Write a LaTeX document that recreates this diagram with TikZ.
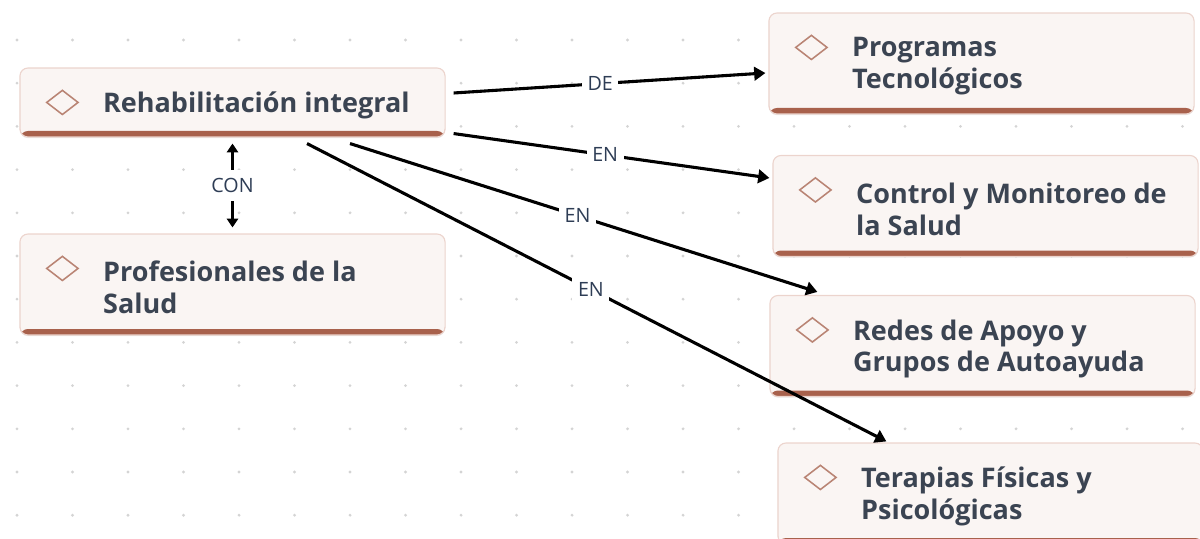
\documentclass[tikz,border=0pt]{standalone}
\usepackage{fontspec}
\setmainfont{Open Sans}
\usetikzlibrary{calc,positioning,arrows.meta,shapes.geometric,shadows}
\definecolor{cardbg}{RGB}{250,245,243}
\definecolor{carde}{RGB}{236,212,205}
\definecolor{bandc}{RGB}{168,97,76}
\definecolor{iconc}{RGB}{185,132,116}
\definecolor{txtc}{RGB}{59,68,82}
\definecolor{labc}{RGB}{46,61,85}
\definecolor{dotc}{RGB}{212,212,212}
\tikzset{
  card/.style={rectangle,rounded corners=0.2cm,draw=carde,line width=0.8pt,fill=cardbg,
    minimum width=10.625cm,inner sep=0pt,
    drop shadow={shadow xshift=0pt,shadow yshift=-0.8pt,opacity=0.18},
    path picture={\fill[bandc] (path picture bounding box.south west) rectangle ($(path picture bounding box.south east)+(0,-6)$);}},
  icon/.style={diamond,draw=iconc,line width=1.1pt,minimum width=0.8cm,minimum height=0.62cm,inner sep=0pt},
  ttxt/.style={font=\bfseries\fontsize{19.2}{22.7}\selectfont,text=txtc,align=left,inner sep=0pt},
  link/.style={-{Triangle[length=2.8mm,width=3.4mm]},line width=2.2pt,black},
  elab/.style={fill=white,font=\fontsize{14}{16}\selectfont,text=labc,inner sep=4pt},
}
\begin{document}
\begin{tikzpicture}[x=0.025cm,y=-0.025cm]
  \useasboundingbox (0,0) rectangle (1200,538);
  % dotted grid
  \foreach \i in {0,...,21}{
    \foreach \j in {0,...,11}{
      \fill[dotc] (17+55.5*\i,40+43.2*\j) circle (1.1pt);}}
  % cards
  \foreach \n/\x/\y/\h/\t in {rehab/232.5/102.5/69/{Rehabilitación integral},
                              prof/232.5/284.5/101/{Profesionales de la\\Salud},
                              prog/981.5/63.5/101/{Programas\\Tecnológicos},
                              ctrl/985.5/206/101/{Control y Monitoreo de\\la Salud},
                              redes/982.5/346/101/{Redes de Apoyo y\\Grupos de Autoayuda},
                              ter/990.5/493.5/101/{Terapias Físicas y\\Psicológicas}}{
    \node[card,minimum height=\h*0.025cm] (\n) at (\x,\y){};
    \node[icon] (\n-i) at ($(\n.north west)+(43,35)$){};
    \node[ttxt,anchor=west] (\n-t) at ($(\n.west)+(83.5,3)$){\t};}
  % links
  \draw[link] ($(rehab.east)+(8,-9.5)$) -- node[elab,pos=0.47] (de) {DE} ($(prog.west)+(-3,9.5)$);
  \draw[link] ($(rehab.south east)+(8,-4)$) -- node[elab,pos=0.48] (en1) {EN} ($(ctrl.north west)+(-3,23)$);
  \draw[link] ($(rehab.south)+(117.5,6)$) -- node[elab,pos=0.487] (en2) {EN} ($(redes.north west)+(48,-3)$);
  \draw[link] ($(rehab.south)+(74.5,6)$) -- node[elab,pos=0.49] (en3) {EN} ($(ter.north west)+(109,-1)$);
  \draw[link,{Triangle[length=2.2mm,width=2.8mm]}-{Triangle[length=2.2mm,width=2.8mm]},line width=1.9pt]
    ($(rehab.south)+(0,6)$) -- node[elab,inner sep=6pt] (con) {CON} ($(prof.north)+(0,-6)$);
\end{tikzpicture}
\end{document}
